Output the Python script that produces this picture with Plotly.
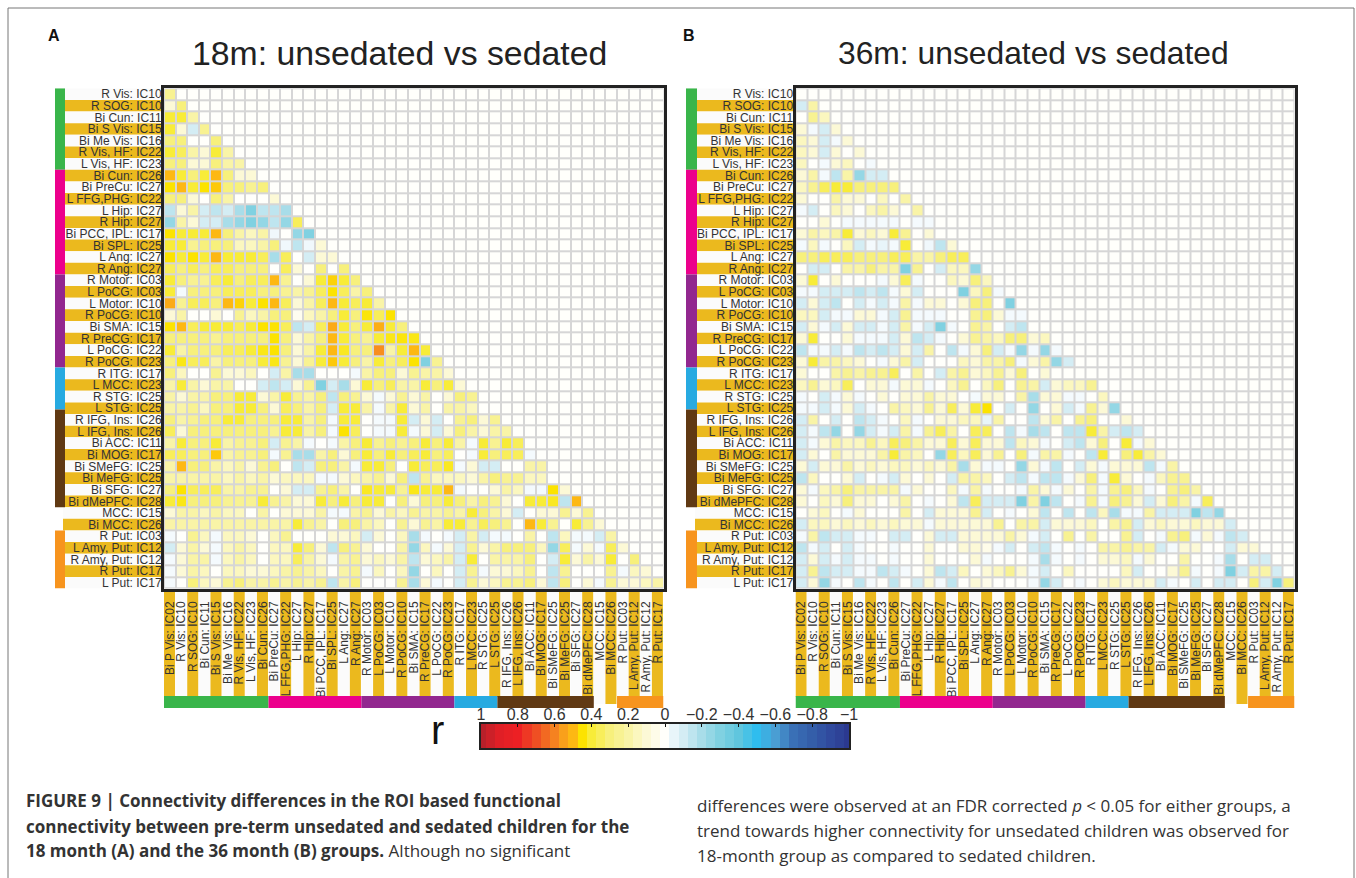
import plotly.graph_objects as go

W, H = 1356, 878

ROW_LABELS = ["R Vis: IC10","R SOG: IC10","Bi Cun: IC11","Bi S Vis: IC15","Bi Me Vis: IC16","R Vis, HF: IC22","L Vis, HF: IC23",
 "Bi Cun: IC26","Bi PreCu: IC27","L FFG,PHG: IC22","L Hip: IC27","R Hip: IC27","Bi PCC, IPL: IC17","Bi SPL: IC25","L Ang: IC27","R Ang: IC27",
 "R Motor: IC03","L PoCG: IC03","L Motor: IC10","R PoCG: IC10","Bi SMA: IC15","R PreCG: IC17","L PoCG: IC22","R PoCG: IC23",
 "R ITG: IC17","L MCC: IC23","R STG: IC25","L STG: IC25","R IFG, Ins: IC26","L IFG, Ins: IC26","Bi ACC: IC11","Bi MOG: IC17",
 "Bi SMeFG: IC25","Bi MeFG: IC25","Bi SFG: IC27","Bi dMePFC: IC28","MCC: IC15","Bi MCC: IC26","R Put: IC03","L Amy, Put: IC12",
 "R Amy, Put: IC12","R Put: IC17","L Put: IC17"]
COL_LABELS = ["Bi P Vis: IC02"] + ROW_LABELS[:-1]

# r values x 10, lower triangle, one list per row
R18 = [
[2.5],
[1,3],
[4,4,2],
[4,1,-1,2.5],
[3,3,0,0,3],
[4,3.5,2,1,4,2],
[3,3,1,1,3,2,2],
[5,4,3,4,5,3,1,1],
[4.5,5,4,4.5,4.8,3,3,2.5,3],
[3,3,1,0,3,2,0,0,0,1],
[-1.5,1,2,-1,-1.5,-1,-2,-3,-1.5,-1.5,-2],
[-2.5,2,1,-1,-1,-2,-2.5,-3,-2.5,-1.5,-2.5,3.5],
[4.5,4,4,4,5,3,2,1.5,2,-.3,0,-2.5,-3],
[4,4,2.5,3,3,3,1.5,1.5,2,3,-.3,-1.5,-.3,1],
[4.5,4,4.5,4,5,4,4,4,3.5,-2,3.5,0,-1,1,1],
[3.5,3,3.5,3,3.5,3.5,3,3,3,0,3.5,1,0,3,0,3],
[4,3,2.5,2.5,3.5,4,3,3.5,3.5,5,2.5,0,1,4,4.7,4,3],
[4,-.2,3,3,3,3.5,3.5,3.5,3,3,2.5,2,2.5,3.5,4.5,3.5,2,3],
[5.3,2.5,3.5,3.5,3,5,4.7,4,4.5,5,3.5,1,2,3.5,5,4,3.5,4,2],
[1,2,0,0,1,0,2.5,1.5,2,3,3,.3,1.5,2,3,4,3,4.4,3.5,4.5],
[4.5,5,3.5,4,4,4,3.5,4,4.5,4.5,3.5,-1.5,-1,3.5,5.3,4,3,4,5.2,4,3],
[3,3,3,3,2.5,3,3,3,3,4.5,3,1,2,3,5,4,3,2.5,4,4.3,4.4,4.3],
[4,2,3,3,3,3.5,3.5,4,4.3,4.5,3,1,2,4,5,4.2,3,3,5.8,2,4,5,4],
[3,4.3,3.5,3.5,2,3,3,3,4,4.3,2.5,1,2.5,4,4.8,4,3,2,4,3,3.5,4.5,-3,2.5],
[3,1.5,0,0,2.5,1,1,1.5,0,-1,2,-2,-2,0,0,0,-.2,2,3,3,1,2.5,2,2,1],
[2,4,2,1,2,2,0,0,-1,-1.5,-1,1,2.5,-3,-1,-2,1,4,3,3.5,2,2,4,3,4,1],
[2,1,2,2,3,3,4,4,1,2,4,2.5,2,3,-1.5,3,2.5,1,-.2,1,2.5,1,2,0,1,3,2.5],
[2,2,2.5,1.5,3,3,4,4,3,1,3.5,3,2,3,-1,4,4,2,-.2,2,4,1,2,0,2,2,1.5,0],
[3,2,2.5,3,3,4,4,3,3,3,4,4,2,3,-.2,4,4,0,-.2,-.2,4,-1,1,-1,0,2.5,3,1,2.5],
[3.5,1,3,3,3,3,3,3,3,2.5,4,4,2,3,-.2,4.5,3.5,0,-.2,-.2,4,-.2,1,-1,1,3,2,1,2,2],
[2,4,3,3,4,2,2.5,2.5,3,-1,2.5,2,-.2,0,-.2,2,3,4,2.5,3,2.5,3,4,3,4,2,-.2,4,2.5,4,3.5],
[3.5,3.5,3,3,4.8,2,2.5,2.5,3,-.2,2.5,-2,-2,2,3,1,3,4,3,4,3,3.5,4,3,3.5,0,-.2,4,3,3.5,3.5,-.2],
[2,5,3,3,2,1.5,2,1,2.5,3,0,-1.5,-1,3,3,2,-.2,4,4,3,0,4,3.5,3.5,4.2,-.2,1,-1,-1,0,0,2,2],
[2,2,2,2,2,1.5,2,1.5,2,1,1.5,1.5,1.5,-.2,-.2,1,1.5,2,2.5,1,3,-1.5,2.5,1.5,1.5,1.5,1,2,3,2.5,2.5,1.5,1.5,0],
[3,4.5,3.5,3.5,3.5,2,2,2.5,2.5,0,1,-1,-1,2.5,3,2,0,4.2,4,4,2.5,4.3,4,4,5,-.2,0,0,1,2,1.5,-.2,-.2,4.5,1],
[4,4.3,3,3,3,2.5,2.5,2.5,4,2.5,2,1,1,4,3,4,3,4,4,0,3,1,3,3,4,3,2,3,2.5,1,0,4,4,4.2,-1.5,5],
[1,2,2,1.5,2,1.5,1.5,0,2,0,1,1,1,2,-.2,-.2,2,2.5,1,2,1.5,2.5,2,2,2.5,2,4,3,2,1,-1,0,1,1,2.5,1,2.5],
[2,2,2,2,2,2,2,2,2,2,2,4,2.5,2,0,3,3,2,1.5,0,2.5,1,2.5,2,4,4,2.5,3.5,3,2.5,0,5,4,2.5,0,4,2.5,1],
[-.2,0,2.5,1.5,-.2,1.5,1.5,1,0,1.5,2.5,0,0,0,1,1,1.5,-1,1,0,1.5,-2,-.2,0,-.2,-1,2,-1,-.2,-.2,0,2,0,-1.5,1.5,-.2,-.2,-1,2],
[-1,1,2,1,-.2,1.5,2,1.5,0,1.5,1.5,4,3,1,-1.5,3,2.5,1,0,0,2,-2.5,1.5,-.2,1,-1,2.5,1,2,3,3,3,1.5,-2.5,3.5,-.2,1,-.2,3.5,1],
[-.2,1,2,2,-.2,1.5,2,1.5,0,1.5,1.5,3.5,2,1,-.2,2,2.5,1,1.5,1,2,-1.5,1,1.5,2,-1,4,0,2,2,2,3,0,-1,4,1,2,1,4,0,3],
[-.2,1,2,1.5,0,1.5,1.5,1,1,1.5,2,2.5,2,1.5,0,2,2.5,-.2,1.5,0,1.5,-2.5,0,1.5,0,-1,2.5,-.2,1,1,1.5,2.5,0,-1.5,2.5,0,0,0,2.5,-.2,1.5,1],
[-.2,0,3,1.5,1,2.5,3,2,2,2.5,2,2.5,2,2.5,-1.5,2,3,0,0,0,2.5,-2,1,-.2,0,-1,2.5,1,1.5,2.5,2.5,3,1,-1.5,3,0,1,-.2,2.5,1,1,1.5,2],
]

R36 = [
[0],
[-1,2],
[0,2.5,1.5],
[1,-.2,-1,1],
[1.5,1,-1,-.2,1],
[1.5,1,-1,1,0,1],
[1.5,0,-.2,1,1.5,0,-.2],
[1,2,-.2,-1.5,2,-2.5,-1,-1],
[1.5,2.5,3.5,4,4,3,3,3,3],
[1,0,0,2,1,1,0,1.5,0,2],
[-.2,-1,0,1.5,1,0,1.5,2,1,0,2],
[0,0,1,0,-.2,-.2,-.2,-.2,-.2,0,-.2,-.2],
[1,2,1.5,2,4,1,1.5,1,4,2.5,0,1,0],
[-.2,1.5,-.2,0,1.5,-1,-.2,-.5,-.2,4,0,-.3,-1.5,1],
[3,3,3.5,3.5,3.5,3,3,3,3.5,3.5,2,2,3,3.5,3.5],
[0,-1,-1,0,2,2,3,2,2,-3,2.5,0,-1,1.5,1.5,-2.5],
[1,4,0,1,0,0,0,-.2,1,3.5,-.2,0,0,1.5,1,3,1.5],
[-.2,-.2,-1,-1,-1,-1.5,-1,-1.5,-.2,1,-1,0,0,0,-3,1.5,3,-.2],
[-1,1,-1,-1.5,0,-1,-.2,-1,-.2,2,-.2,1,1,0,1,3,3,0,-3],
[1.5,1.5,-1,-.2,-.2,1,1,-.2,-1,2.5,-.2,-.2,-.2,0,0,2.5,3,1,-.2,-.2],
[-1,1,-.2,-1,1,-1,-1,-.2,-1,2,-.2,-1,-3,-.2,0,2.5,2,0,-1,-1.5,0],
[1,4,0,0,1,-.2,-.2,-.2,-1,1,-1.5,-1,-.2,0,1,2.5,2,1.5,3,3,1,1.5],
[-1.5,-.2,-.2,-1,-.2,-1.5,-1,-1.5,-1,1,-1,2,0,-1.5,-.2,1,3,-1,-.2,-2.5,-.2,-2.5,-.2],
[1,4,2,2,1.5,1,0,-.2,1,2,-1,0,0,0,1.5,1,2,2,3,-.2,1,2,-2.5,-1],
[1,0,0,2,2.5,2,2.5,2.5,3.5,0,2,0,-1,2,2.5,1,1.5,2.5,1,3,0,1,0,0,0],
[1.5,2.5,1,1.5,3.5,0,1,1,-.2,1,1,-.2,0,1.5,2.5,0,1.5,3,0,2.5,2,-1,1,1.5,1.5,2.5],
[-.2,0,-1,-.2,1,-.2,0,1,0,1,1,2,1,1,0,-.2,1,1,0,2,-2,1,1,-.2,-.2,0,1.5],
[-.2,-.2,-1,-.2,1,-1,-.2,0,2,1.5,1,2.5,1,3.5,1,4,4.5,0,-1,0,-2.5,0,1,-1,-.2,2.5,1,-2.5],
[-1,2,0,-1,0,-1.5,-1,-.2,0,1.5,-.2,0,1,1,1.5,1.5,-.5,2,0,0,-1.5,1,2,0,2.5,3,0,0,1],
[-1,-.2,-1.5,-2.5,0,-2.5,-1,-.2,-1,2,-.2,2.5,3.5,2,0,3.5,3.5,0,-1.5,-.2,-2,-1.5,0,-1.5,-1.5,4,2,-1,-1.5,-1],
[-1,-.2,1,2,1.5,1.5,2.5,1.5,3.5,3,2,1,1,3.5,1,3.5,1,1,-1.5,1.5,1,-.2,0,-1,-1.5,1,3,0,4,-.2,1],
[-1,1,0,2,1,1,1,2,4,2,1.5,0,-2.5,3.5,1.5,3.5,1,2.5,0,3,-.2,2,2,-.2,0,-1.5,4,0,3,4,2,1],
[1,-1,1,1,2,1,1.5,1,1.5,1.5,1,1.5,1,2,-2,1,-.2,-.2,0,-2.5,1,-.2,-1.5,0,-1,1,-.2,1,1,1,-1.5,-.2,2],
[-1.5,1.5,0,0,1,-1,0,-.2,-1,1,0,1,0,-1,2,2,1.5,0,-1,-1.5,-.2,-1.5,-1.5,-.2,1,3,-.2,4,1,0,-.2,1.5,2.5,2.5],
[1,-.2,1.5,2,3,2,2,2,2,-.2,1,0,0,1.5,-.2,2,-.2,0,0,-.2,2,1,-.2,1,0,2,-.2,2.5,3,1.5,-.2,0,2.5,3,2],
[1,0,1.5,1,3,1,1,0,1,2,0,-.2,0,1,-1.5,3.5,-1,-1,-1,-3,2,-3,-1.5,0,-.2,2.5,-.2,3,2.5,1,-1,1,3,2,-.2,3.5],
[0,1,1.5,0,-.2,1,0,0,0,2,0,-1,1,1,1,2.5,-1,0,-.2,0,1,-1.5,0,-1.5,0,-1.5,1.5,-2,-.2,-.2,2,-1,-1,-1,-3,-1.5,-2.5],
[-1,1.5,1.5,1,1.5,1,1.5,1,1.5,1,1,-.2,1,1,1,1,1,2.5,0,2,2,-1,1,1,1,1.5,0,2,2.5,-1,1,1.5,1,1,1.5,1,1,-1],
[-.2,2,-1.5,-1,-1,-.2,-.2,0,-1,-1,0,1,-1,-1,1,1,1,1,2,1,-.2,-1,0,2.5,0,2,0,0,2.5,-1,0,-.2,2.5,3,-.2,1,-.2,-1.5,-1],
[-1.5,-.2,-1,0,-1,-.2,0,0,-.2,0,0,1,0,0,1,1,.5,-.2,-1,0,-1,-1.5,-.2,0,-.2,0,2,2,2.5,2,2,-1,-.2,1,1,0,0,-1,1,1],
[-1,1,-1,-.2,-1,-.2,-.2,0,-.2,0,0,1,0,0,0,1,-.2,0,0,0,-.2,-2,-.2,0,-.2,0,1,1,1.5,-.2,1,0,0,2,0,0,-.2,-2,0,-1,-1],
[-1,2.5,-1.5,-1,-1,-.2,-.2,-1.5,-1,-.2,0,1,-1.5,-1,1.5,0,1,1.5,2.5,1,-.2,-1,0,1.5,0,0,0,0,1.5,-1,0,0,1,2.5,-.2,0,-.2,-3,-1,2,2,-1],
[-1,1,-2.5,-.2,0,-1.5,-.2,0,-1.5,0,-1,1,-.2,-1.5,0,1,.5,0,0,0,-.2,-2.5,-1,0,-.2,0,1,1.5,1,1,1,-1,-.2,0,-1,0,-1,-1,0,3,-1,-3,3],
]

SCALE_VALUES = [1,.95,.9,.85,.8,.75,.7,.65,.6,.55,.5,.45,.4,.35,.3,.25,.2,.15,.1,.05,0,
                -.05,-.1,-.15,-.2,-.25,-.3,-.35,-.4,-.45,-.5,-.55,-.6,-.65,-.7,-.75,-.8,-.85,-.9,-.95,-1]
SCALE_TICKS = [1,.8,.6,.4,.2,0,-.2,-.4,-.6,-.8,-1]
SCALE_TEXT = ["1","0.8","0.6","0.4","0.2","0","−0.2","−0.4","−0.6","−0.8","−1"]

STOPS = [(-1,"#2b3990"),(-.9,"#304a9e"),(-.8,"#345ea9"),(-.7,"#3a70b6"),(-.6,"#4a9ed3"),(-.5,"#2fbdee"),(-.4,"#60c6de"),
 (-.3,"#80d1e1"),(-.2,"#a8dde9"),(-.1,"#d4edf4"),(-.02,"#f4fafd"),(0,"#fffffb"),(.1,"#fcf9d6"),(.2,"#f9f4a7"),(.3,"#f7f07c"),
 (.4,"#f8ec38"),(.45,"#fce300"),(.5,"#fdb813"),(.55,"#f9a01b"),(.6,"#f58220"),(.7,"#ef4f23"),(.8,"#ed2024"),(.9,"#e01f26"),(1,"#b8202a")]
COLORSCALE = [[(v+1)/2, c] for v, c in STOPS]

GOLD, PALE, GRID, FRAME = "#ebb91e", "#fbfbfb", "#d6d6d6", "#222222"
ROW_GROUPS = [(0,7,"#39b54a"),(7,16,"#ec008c"),(16,24,"#92278f"),(24,27.6,"#27aae1"),(27.6,36,"#603913"),(38,43,"#f7941e")]
COL_GROUPS = [(0,9,"#39b54a"),(9,17,"#ec008c"),(17,25,"#92278f"),(25,28.7,"#27aae1"),(28.7,37,"#603913"),(39,43,"#f7941e")]
N = len(ROW_LABELS)
FONT = "Liberation Sans"

def px(x): return x/W
def py(y): return 1-y/H

def full(rows):
    z = [[0.0]*N for _ in range(N)]
    for i, row in enumerate(rows):
        if len(row) != i+1:
            print("row length", i, len(row))
        for j, v in enumerate(row[:N]):
            z[i][j] = v/10
    return z

fig = go.Figure()
shapes, annotations = [], []
panels = [("x","y",R18,164,663.5,55,65,"xaxis","yaxis"),("x2","y2",R36,795.5,1294.5,686,697,"xaxis2","yaxis2")]
layout = {}
idx = list(range(N))
for xa,ya,rows,L,R,s0,s1,xk,yk in panels:
    fig.add_trace(go.Heatmap(z=full(rows),x=idx,y=idx,coloraxis="coloraxis",xgap=2,ygap=2,hoverinfo="skip",xaxis=xa,yaxis=ya))
    layout[xk]=dict(domain=[px(L),px(R)],range=[-.5,N-.5],anchor=ya,side="bottom",tickmode="array",tickvals=idx,ticktext=COL_LABELS,
        tickangle=-90,ticks="",ticklabelstandoff=5,automargin=False,tickfont=dict(family=FONT,size=12,color="#333"),
        showline=True,mirror=True,linecolor=FRAME,linewidth=3,showgrid=False,zeroline=False)
    layout[yk]=dict(domain=[py(588.6),py(88.3)],range=[N-.5,-.5],anchor=xa,tickmode="array",tickvals=idx,ticktext=ROW_LABELS,ticks="",automargin=False,
        ticklabelstandoff=-3,tickfont=dict(family=FONT,size=12,color="#333"),showline=True,mirror=True,linecolor=FRAME,linewidth=3,showgrid=False,zeroline=False)
    for i in range(N):
        left = s1-2 if i in (36,37) else s1
        shapes.append(dict(type="rect",layer="below",xref="paper",yref=ya,x0=px(left),x1=px(L),y0=i-.5,y1=i+.5,
                           fillcolor=GOLD if i%2 else PALE,line_width=0))
        bottom = 704 if i in (37,38) else 697
        shapes.append(dict(type="rect",layer="below",xref=xa,yref="paper",x0=i-.5,x1=i+.45,y0=py(bottom),y1=py(590),
                           fillcolor=PALE if i%2 else GOLD,line_width=0))
    for a,b,c in ROW_GROUPS:
        shapes.append(dict(type="rect",layer="above",xref="paper",yref=ya,x0=px(s0),x1=px(s1),y0=a-.5,y1=b-.5,fillcolor=c,line_width=0))
    for a,b,c in COL_GROUPS:
        shapes.append(dict(type="rect",layer="above",xref=xa,yref="paper",x0=a-.5,x1=b-.5,y0=py(708),y1=py(696),fillcolor=c,line_width=0))

# thin outer page border (open at the bottom)
shapes.append(dict(type="path",layer="below",xref="paper",yref="paper",
                   path=f"M {px(8)} 0 L {px(8)} {py(8)} L {px(1354)} {py(8)} L {px(1354)} 0",line=dict(color="#777",width=1)))

fig.add_trace(go.Heatmap(z=[SCALE_VALUES],x=SCALE_VALUES,y=[0],coloraxis="coloraxis",hoverinfo="skip",xaxis="x3",yaxis="y3"))
layout["xaxis3"]=dict(domain=[px(481),px(849)],range=[1,-1],anchor="y3",side="top",tickmode="array",tickvals=SCALE_TICKS,ticktext=SCALE_TEXT,
    ticks="inside",ticklen=3,tickcolor="#111",tickwidth=1,tickangle=0,ticklabelstandoff=-4,automargin=False,tickfont=dict(family=FONT,size=16,color="#333"),
    showline=True,mirror=True,linecolor="#222",linewidth=2,showgrid=False,zeroline=False)
layout["yaxis3"]=dict(domain=[py(748),py(724)],range=[-.5,.5],anchor="x3",showticklabels=False,ticks="",automargin=False,
    showline=True,mirror=True,linecolor="#222",linewidth=2,showgrid=False,zeroline=False)

def note(x,y,text,size,color="#222",family=FONT,anchor="left"):
    annotations.append(dict(xref="paper",yref="paper",x=px(x),y=py(y),text=text,showarrow=False,xanchor=anchor,yanchor="middle",
                            font=dict(family=family,size=size,color=color)))
note(399.5,53,"18m: unsedated vs sedated",33.8,anchor="center")
note(1033,53,"36m: unsedated vs sedated",31.8,anchor="center")
note(46,36,"<b>A</b>",16,"#111")
note(681,36,"<b>B</b>",16,"#111")
note(437,730,"r",40,"#111",anchor="center")
CAP = "Open Sans"
note(24,800,"<b>FIGURE 9 | Connectivity differences in the ROI based functional</b>",17,"#333",CAP)
note(24,826,"<b>connectivity between pre-term unsedated and sedated children for the</b>",17,"#333",CAP)
note(24,850,"<b>18 month (A) and the 36 month (B) groups.</b> Although no significant",17,"#333",CAP)
note(695,805,"differences were observed at an FDR corrected <i>p</i> &lt; 0.05 for either groups, a",17,"#333",CAP)
note(695,830,"trend towards higher connectivity for unsedated children was observed for",17,"#333",CAP)
note(695,855,"18-month group as compared to sedated children.",17,"#333",CAP)

fig.update_layout(width=W,height=H,margin=dict(l=0,r=0,t=0,b=0,pad=0,autoexpand=False),paper_bgcolor="white",plot_bgcolor=GRID,showlegend=False,
    coloraxis=dict(colorscale=COLORSCALE,cmin=-1,cmax=1,showscale=False),shapes=shapes,annotations=annotations,**layout)
fig.write_html("out.html",config=dict(displayModeBar=False),post_script="document.body.style.margin='0';")
